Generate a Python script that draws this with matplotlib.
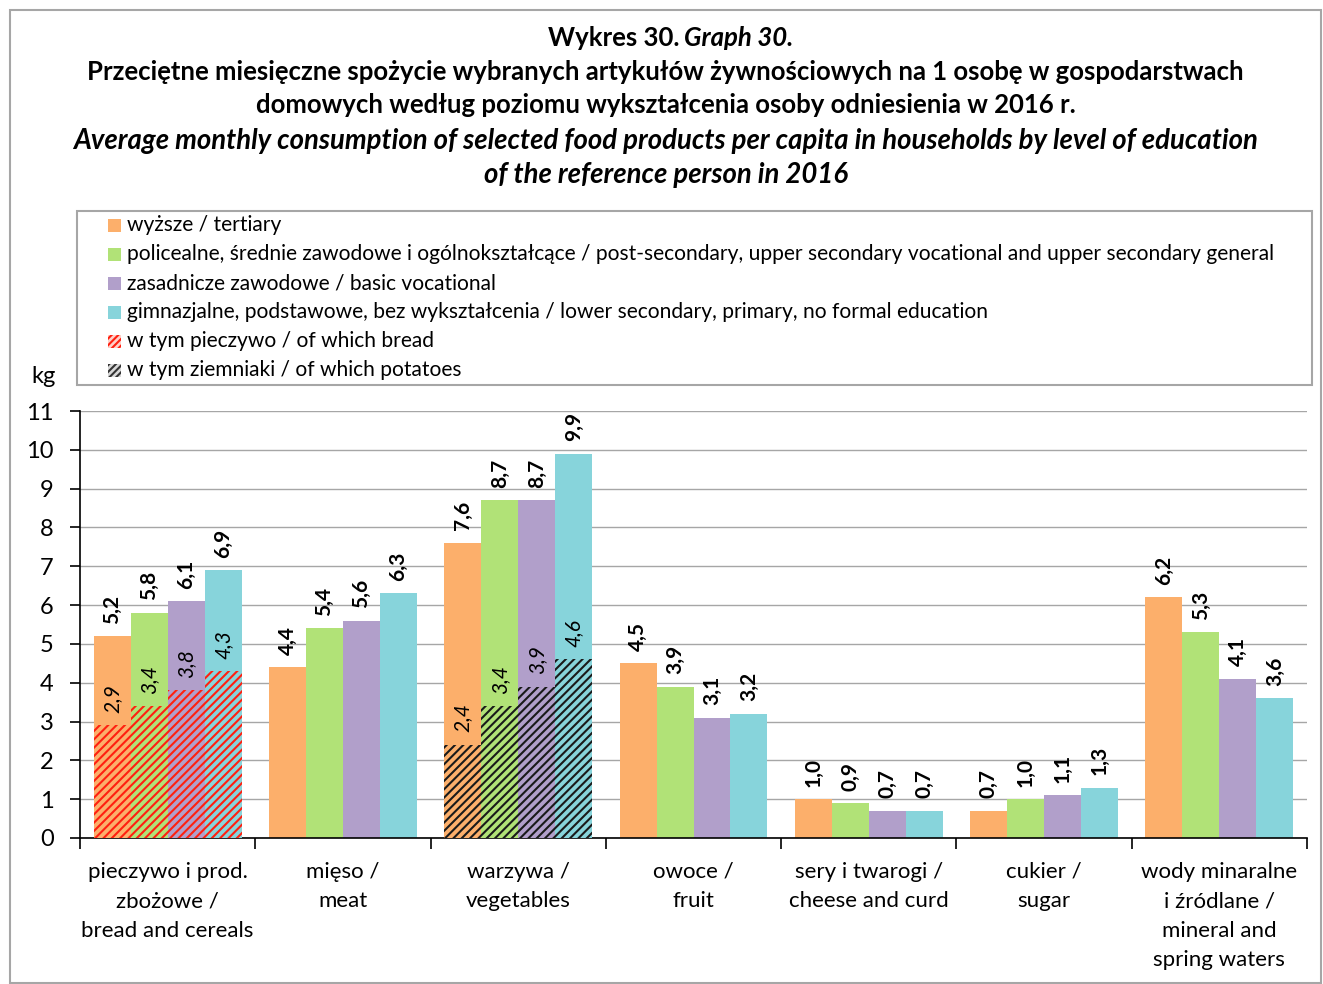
import matplotlib
matplotlib.use("Agg")
import matplotlib.pyplot as plt
from matplotlib.patches import Rectangle
import numpy as np

plt.rcParams['font.family'] = ['Lato', 'DejaVu Sans']
plt.rcParams['hatch.linewidth'] = 1.5

categories = ["pieczywo i prod.\nzbożowe /\nbread and cereals", "mięso /\nmeat",
              "warzywa /\nvegetables", "owoce /\nfruit", "sery i twarogi /\ncheese and curd",
              "cukier /\nsugar", "wody minaralne\ni źródlane /\nmineral and\nspring waters"]
series_names = ["wyższe / tertiary",
                "policealne, średnie zawodowe i ogólnokształcące / post-secondary, upper secondary vocational and upper secondary general",
                "zasadnicze zawodowe / basic vocational",
                "gimnazjalne, podstawowe, bez wykształcenia / lower secondary, primary, no formal education"]
extra_names = ["w tym pieczywo / of which bread", "w tym ziemniaki / of which potatoes"]
tertiary = [5.2, 4.4, 7.6, 4.5, 1.0, 0.7, 6.2]
post_secondary = [5.8, 5.4, 8.7, 3.9, 0.9, 1.0, 5.3]
basic_vocational = [6.1, 5.6, 8.7, 3.1, 0.7, 1.1, 4.1]
lower_secondary = [6.9, 6.3, 9.9, 3.2, 0.7, 1.3, 3.6]
bread_of_which = [2.9, 3.4, 3.8, 4.3]       # within "bread and cereals"
potatoes_of_which = [2.4, 3.4, 3.9, 4.6]    # within "vegetables"
bread_cat = 0
veg_cat = 2
yticks = list(range(0, 12))

colors = ["#FCAF6B", "#B1E277", "#B19FCA", "#87D4DB"]
series = [tertiary, post_secondary, basic_vocational, lower_secondary]
RED = "#FF2010"
DARK = "#1A1A1A"

def fmt(v):
    return f"{v:.1f}".replace(".", ",")

fig = plt.figure(figsize=(13.23, 9.84), dpi=100)
W, H = 1323, 984
def fx(px): return px / W
def fy(py): return 1 - py / H

# outer border
fig.patches.append(Rectangle((fx(10), fy(983)), fx(1321) - fx(10), fy(10) - fy(983),
                             transform=fig.transFigure, fill=False, edgecolor="#A6A6A6", lw=1.5))

ax = fig.add_axes([fx(80), fy(838), fx(1307) - fx(80), fy(411) - fy(838)])
x = np.arange(len(categories))
w = 0.211
offsets = np.array([-1.5, -0.5, 0.5, 1.5]) * w
VFS = 15

for i, (vals, c) in enumerate(zip(series, colors)):
    ax.bar(x + offsets[i], vals, w, color=c, edgecolor="none", zorder=2)
    for xi, v in zip(x + offsets[i], vals):
        ax.annotate(fmt(v), (xi, v), xytext=(0, 9), textcoords="offset points",
                    rotation=90, ha="center", va="bottom", fontsize=VFS, fontweight="bold")
    # of which bread
    ax.bar(bread_cat + offsets[i], bread_of_which[i], w, color=c, edgecolor=RED,
           hatch="////", linewidth=0, zorder=3)
    ax.annotate(fmt(bread_of_which[i]), (bread_cat + offsets[i], bread_of_which[i]),
                xytext=(0, 9), textcoords="offset points", rotation=90, ha="center",
                va="bottom", fontsize=VFS, fontstyle="italic")
    # of which potatoes
    ax.bar(veg_cat + offsets[i], potatoes_of_which[i], w, color=c, edgecolor=DARK,
           hatch="////", linewidth=0, zorder=3)
    ax.annotate(fmt(potatoes_of_which[i]), (veg_cat + offsets[i], potatoes_of_which[i]),
                xytext=(0, 9), textcoords="offset points", rotation=90, ha="center",
                va="bottom", fontsize=VFS, fontstyle="italic")

ax.set_xlim(-0.5, len(categories) - 0.5)
ax.set_ylim(0, 11)
ax.set_yticks(yticks)
ax.set_yticklabels([str(t) for t in yticks], fontsize=17)
ax.yaxis.grid(True, color="#A6A6A6", lw=1.0, zorder=0)
ax.set_axisbelow(True)
ax.set_xticks(x)
ax.set_xticklabels(categories, fontsize=16, linespacing=1.6)
ax.tick_params(axis="x", which="major", length=0, pad=17)
ax.set_xticks(np.arange(-0.5, len(categories)), minor=True)
ax.tick_params(axis="x", which="minor", length=8, width=1.2, color="black", direction="out")
ax.tick_params(axis="y", length=7, width=1.2, direction="out", pad=12)
for s in ["top", "right"]:
    ax.spines[s].set_visible(False)
ax.spines["left"].set_linewidth(1.2)
ax.spines["bottom"].set_linewidth(1.2)

fig.text(fx(31), fy(377), "kg", fontsize=17, ha="left", va="center")

# titles
TFS = 18.5
IFS = 19.8
cx = 0.5 + fx(4)
fig.text(fx(680), fy(38), "Wykres 30.", fontsize=TFS, fontweight="bold", ha="right", va="center")
fig.text(fx(684), fy(38), "Graph 30.", fontsize=TFS, fontweight="bold", fontstyle="italic", ha="left", va="center")
fig.text(cx, fy(72), "Przeciętne miesięczne spożycie wybranych artykułów żywnościowych na 1 osobę w gospodarstwach",
         fontsize=TFS, fontweight="bold", ha="center", va="center")
fig.text(cx, fy(105), "domowych według poziomu wykształcenia osoby odniesienia w 2016 r.",
         fontsize=TFS, fontweight="bold", ha="center", va="center")
fig.text(cx, fy(141), "Average monthly consumption of selected food products per capita in households by level of education",
         fontsize=IFS, fontweight="bold", fontstyle="italic", ha="center", va="center")
fig.text(cx, fy(175), "of the reference person in 2016",
         fontsize=IFS, fontweight="bold", fontstyle="italic", ha="center", va="center")

# legend (drawn manually in figure pixel coords)
fig.patches.append(Rectangle((fx(77), fy(385)), fx(1312) - fx(77), fy(211) - fy(385),
                             transform=fig.transFigure, fill=False, edgecolor="#A6A6A6", lw=1.5))
leg_labels = series_names + extra_names
leg_face = colors + ["#FFD0C8", "#D8D8D8"]
leg_hatch = [None] * 4 + ["/////", "/////"]
leg_hcol = ["none"] * 4 + [RED, "#333333"]
for k, (lab, fc, hh, hc) in enumerate(zip(leg_labels, leg_face, leg_hatch, leg_hcol)):
    yc = 225 + 29 * k
    fig.patches.append(Rectangle((fx(108), fy(yc + 7)), fx(121) - fx(108), fy(yc - 6) - fy(yc + 7),
                                 transform=fig.transFigure, facecolor=fc, edgecolor=hc,
                                 hatch=hh, linewidth=0))
    fig.text(fx(127), fy(yc), lab, fontsize=15.1, ha="left", va="center")

fig.savefig("out.png", dpi=100)
